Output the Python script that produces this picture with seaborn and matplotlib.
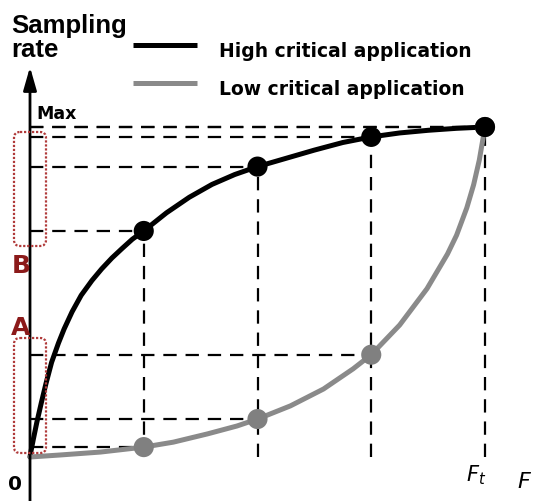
import matplotlib
matplotlib.use("Agg")
import matplotlib.pyplot as plt
import matplotlib.transforms as mtransforms
from matplotlib.lines import Line2D
from matplotlib.patches import FancyBboxPatch, ArrowStyle
import pandas as pd
import seaborn as sns

# curve samples (F in units of F_t/4, rate in units of Max)
high_F = [0, 0.01, 0.03, 0.06, 0.1, 0.14, 0.19, 0.25, 0.3, 0.37, 0.45, 0.545, 0.63,
          0.72, 0.81, 0.9, 1.0, 1.2, 1.4, 1.6, 1.8, 2.0, 2.25, 2.5, 2.75, 3.0, 3.25,
          3.5, 3.75, 4.0]
high_rate = [0, 0.02, 0.055, 0.105, 0.165, 0.222, 0.287, 0.345, 0.388, 0.44, 0.49,
             0.535, 0.57, 0.603, 0.632, 0.66, 0.685, 0.74, 0.787, 0.826, 0.856, 0.88,
             0.905, 0.93, 0.953, 0.97, 0.982, 0.99, 0.996, 1.0]
low_F = [0, 0.26, 0.62, 1.0, 1.26, 1.56, 1.82, 2.0, 2.29, 2.58, 2.84, 3.0, 3.25,
         3.49, 3.67, 3.75, 3.84, 3.9, 3.95, 4.0]
low_rate = [0, 0.006, 0.015, 0.03, 0.045, 0.07, 0.094, 0.115, 0.155, 0.206, 0.267,
            0.31, 0.40, 0.51, 0.615, 0.672, 0.755, 0.825, 0.9, 1.0]

# marked points
point_F = [1, 2, 3, 4]
high_points = [0.685, 0.88, 0.97, 1.0]
low_points = [0.03, 0.115, 0.31, 1.0]

series_names = ["High critical application", "Low critical application"]
colors = {"High critical application": "black", "Low critical application": "#8a8a8a"}

W, H = 534, 502

sns.set_theme(style="white")
plt.rcParams["font.family"] = ["DejaVu Sans"]
plt.rcParams["text.color"] = "black"

fig = plt.figure(figsize=(W / 100, H / 100), dpi=100)
ax = fig.add_axes([0, 0, 1, 1])
# pixel x=30 -> F=0, x=485 -> F=4 ; pixel y=458 -> 0, y=128 -> Max
ax.set_xlim((0 - 30) / 113.75, (W - 30) / 113.75)
ax.set_ylim((458 - H) / 330, 458 / 330)
ax.axis("off")

curves = pd.concat([
    pd.DataFrame({"F": high_F, "rate": high_rate, "app": series_names[0]}),
    pd.DataFrame({"F": low_F, "rate": low_rate, "app": series_names[1]}),
])
points = pd.concat([
    pd.DataFrame({"F": point_F, "rate": low_points, "app": series_names[1]}),
    pd.DataFrame({"F": point_F, "rate": high_points, "app": series_names[0]}),
])

# dashed guides
dash = dict(color="black", lw=1.6, dashes=(6, 4), zorder=1)
for f, hi, lo in zip(point_F, high_points, low_points):
    ax.plot([0, f], [hi, hi], **dash)
    ax.plot([0, f], [lo, lo], **dash)
    ax.plot([f, f], [0, hi], **dash)

sns.lineplot(data=curves, x="F", y="rate", hue="app", palette=colors, sort=False,
             lw=3.6, legend=False, ax=ax, zorder=3, solid_joinstyle="round")
sns.scatterplot(data=points, x="F", y="rate", hue="app", palette={
    series_names[0]: "black", series_names[1]: "#808080"}, s=210, linewidth=0,
    legend=False, ax=ax, zorder=4)

# axes with arrows
arrow = ArrowStyle("-|>", head_length=14, head_width=4)
ax.annotate("", xy=(0, (458 - 68) / 330), xytext=(0, (458 - 510) / 330),
            arrowprops=dict(arrowstyle=arrow, lw=2, color="black", shrinkA=0, shrinkB=0,
                            mutation_scale=1), zorder=5)
ax.annotate("", xy=((538 - 30) / 113.75, 0), xytext=((4 - 30) / 113.75, 0),
            arrowprops=dict(arrowstyle=arrow, lw=2, color="black", shrinkA=0, shrinkB=0,
                            mutation_scale=1), zorder=5)

# pixel transform (origin top-left)
px = mtransforms.Affine2D().scale(1, -1).translate(0, H) + mtransforms.IdentityTransform()

for y0, y1 in [(133, 247), (339, 454)]:
    fig.patches.append(FancyBboxPatch(
        (14, y0), 32, y1 - y0, boxstyle="round,pad=0,rounding_size=6",
        fill=False, ec="#b03a3a", lw=1.6, ls=(0, (1, 0.8)), transform=px, zorder=6))

# legend
for y, name in [(46, series_names[0]), (84, series_names[1])]:
    fig.add_artist(Line2D([133, 197], [y, y], color=colors[name], lw=3.6, transform=px,
                          solid_capstyle="butt"))
    fig.text(219, y + 6, name, transform=px, fontsize=13.5, fontweight="bold",
             va="center", ha="left", color="black")

title_font = dict(family="Liberation Sans", fontweight="bold", fontsize=18.5, color="black")
fig.text(11, 33, "Sampling", transform=px, va="baseline", **title_font)
fig.text(11, 57, "rate", transform=px, va="baseline", **title_font)
fig.text(36, 119, "Max", transform=px, va="baseline", fontsize=12.5, fontweight="bold",
         color="black")
fig.text(8, 490, "0", transform=px, va="baseline", fontsize=14.5, fontweight="bold",
         color="black")
fig.text(21, 273, "B", transform=px, va="baseline", ha="center", fontsize=18,
         fontweight="bold", color="#8b1a1a")
fig.text(21, 335, "A", transform=px, va="baseline", ha="center", fontsize=18,
         fontweight="bold", color="#8b1a1a")
fig.text(466, 481, r"$F_t$", transform=px, va="baseline", fontsize=15,
         math_fontfamily="dejavusans", color="black")
fig.text(517, 488, r"$F$", transform=px, va="baseline", fontsize=16,
         math_fontfamily="dejavusans", color="black")

fig.savefig("out.png", dpi=100)
